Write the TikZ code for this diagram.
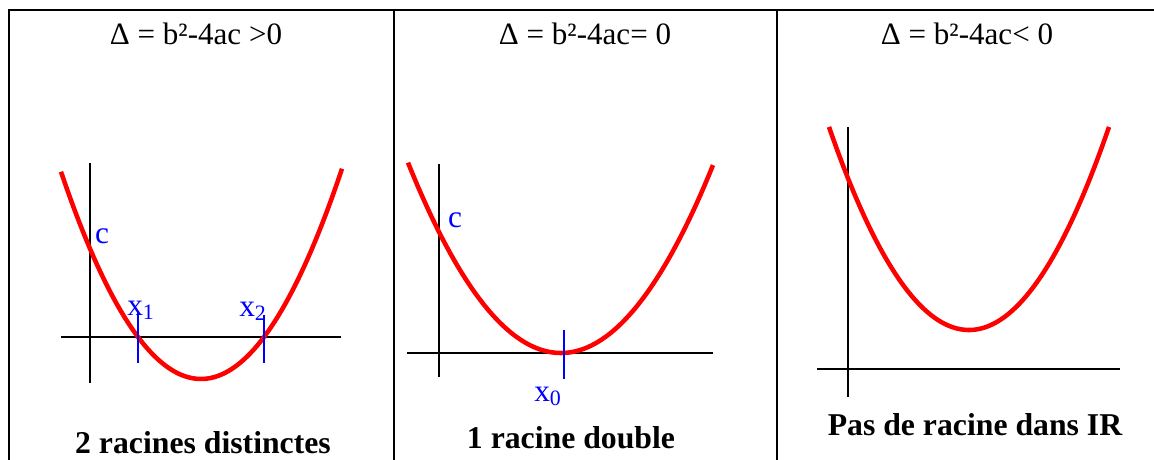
\documentclass[tikz,border=0pt]{standalone}
\usepackage{fontspec}
\setmainfont{Liberation Serif}
\begin{document}
\begin{tikzpicture}[x=0.75pt,y=-0.75pt,
  border/.style={line width=1.5pt,black},
  axis/.style={line width=1.1pt,black},
  curve/.style={line width=3.4pt,red},
  tick/.style={line width=1.5pt,blue},
  head/.style={font=\fontsize{23.3}{27}\selectfont,anchor=base,inner sep=0pt},
  foot/.style={font=\fontsize{23.8}{28}\selectfont\bfseries,anchor=base,inner sep=0pt},
  lab/.style={font=\fontsize{23.5}{27}\selectfont,text=blue,anchor=base west,inner sep=0pt}]
\useasboundingbox (0,0) rectangle (1154,460);
% table borders
\draw[border] (8,10) -- (1154,10);
\draw[border] (9,10) -- (9,460);
\draw[border] (393.5,10) -- (393.5,460);
\draw[border] (776.5,10) -- (776.5,460);
% headers
\node[head] (h1) at (196,45) {Δ = b²-4ac >0};
\node[head] (h2) at (585,45) {Δ = b²-4ac= 0};
\node[head] (h3) at (967,45) {Δ = b²-4ac< 0};
% panel 1
\draw[axis] (90,163) -- (90,383);
\draw[axis] (61,337) -- (341,337);
\draw[curve] plot[domain=61:342,samples=120,smooth] (\x,{337-0.01058*(\x-138)*(\x-264)});
\draw[tick] (138,313) -- (138,363);
\draw[tick] (264,315) -- (264,363);
\node[lab,anchor=base] (c1) at (102,243) {c};
\node[lab] (x1) at (127,315) {x\textsubscript{1}};
\node[lab] (x2) at (239,316) {x\textsubscript{2}};
\node[foot] (f1) at (203,453) {2 racines distinctes};
% panel 2
\draw[axis] (439,164) -- (439,377);
\draw[axis] (407,353) -- (713,353);
\draw[curve] plot[domain=408:713,samples=120,smooth] (\x,{353-0.00814*(\x-561)*(\x-561)});
\draw[tick] (564,330) -- (564,379);
\node[lab,anchor=base] (c2) at (455,227) {c};
\node[lab] (x0) at (534,401) {x\textsubscript{0}};
\node[foot] (f2) at (571,448) {1 racine double};
% panel 3
\draw[axis] (848,127) -- (848,397);
\draw[axis] (817,369) -- (1120,369);
\draw[curve] plot[domain=829:1109,samples=120,smooth] (\x,{330-0.01036*(\x-969)*(\x-969)});
\node[foot] (f3) at (975,435) {Pas de racine dans IR};
\end{tikzpicture}
\end{document}
